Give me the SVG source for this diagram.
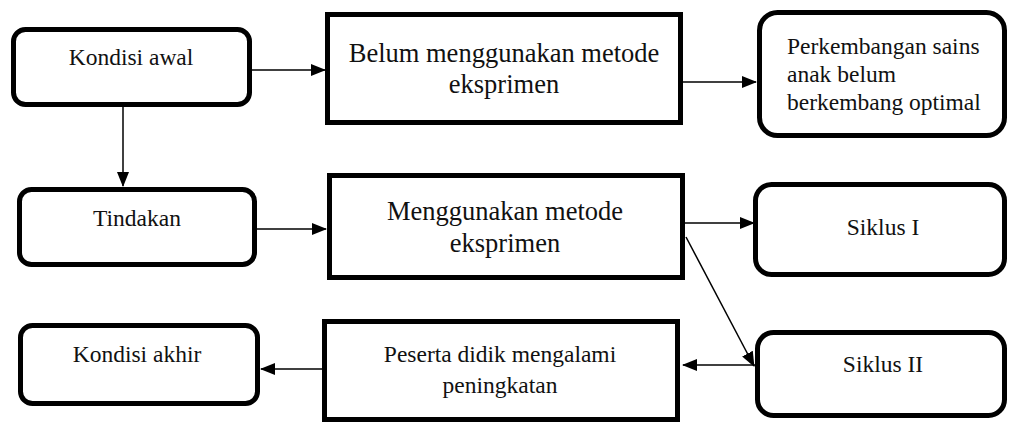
<svg xmlns="http://www.w3.org/2000/svg" width="1010" height="424" viewBox="0 0 1010 424">
  <style>
    .box { fill: #ffffff; stroke: #000000; stroke-width: 5; }
    .t { fill: #111111; font-size: 23.5px; }
    .big { font-size: 26.5px; }
    .c { text-anchor: middle; }
    .conn line { stroke: #000000; stroke-width: 1.5; marker-end: url(#arr); }
  </style>
  <defs>
    <marker id="arr" markerUnits="userSpaceOnUse" markerWidth="15" markerHeight="15" viewBox="0 0 15 15" refX="14" refY="7.5" orient="auto">
      <path d="M0,1.5 L15,7.5 L0,13.5 Z" fill="#000000"/>
    </marker>
  </defs>
  <rect width="1010" height="424" fill="#ffffff"/>

  <g id="connectors" class="conn">
    <line x1="252" y1="70" x2="325" y2="70"/>
    <line x1="683" y1="82" x2="756" y2="82"/>
    <line x1="123" y1="107" x2="123" y2="186"/>
    <line x1="257" y1="229" x2="326" y2="229"/>
    <line x1="680" y1="223" x2="754" y2="223"/>
    <line x1="686" y1="237" x2="754" y2="366"/>
    <line x1="762" y1="365" x2="683" y2="365"/>
    <line x1="322" y1="369" x2="261" y2="369"/>
  </g>

  <g font-family="'Liberation Serif', 'Times New Roman', Tinos, 'DejaVu Serif', serif">
  <g id="kondisi-awal">
    <rect class="box" x="13.5" y="29.5" width="236" height="75" rx="12"/>
    <text class="t c" x="131" y="65">Kondisi awal</text>
  </g>
  <g id="belum">
    <rect class="box" x="327.5" y="14.5" width="353" height="108"/>
    <text class="t big c" x="504" y="62">Belum menggunakan metode</text>
    <text class="t big c" x="504" y="93">eksprimen</text>
  </g>
  <g id="perkembangan">
    <rect class="box" x="759.5" y="12.5" width="245" height="123" rx="18"/>
    <text class="t" x="787" y="54">Perkembangan sains</text>
    <text class="t" x="787" y="82">anak belum</text>
    <text class="t" x="787" y="110">berkembang optimal</text>
  </g>
  <g id="tindakan">
    <rect class="box" x="19.5" y="189.5" width="235" height="75" rx="12"/>
    <text class="t c" x="137" y="226">Tindakan</text>
  </g>
  <g id="menggunakan">
    <rect class="box" x="329.5" y="175.5" width="353" height="102"/>
    <text class="t big c" x="505" y="220">Menggunakan metode</text>
    <text class="t big c" x="505" y="252">eksprimen</text>
  </g>
  <g id="siklus-1">
    <rect class="box" x="755.5" y="184.5" width="249" height="90" rx="16"/>
    <text class="t c" x="883" y="235">Siklus I</text>
  </g>
  <g id="siklus-2">
    <rect class="box" x="757.5" y="332.5" width="247" height="83" rx="16"/>
    <text class="t c" x="883" y="372">Siklus II</text>
  </g>
  <g id="peserta">
    <rect class="box" x="324.5" y="321.5" width="353" height="98"/>
    <text class="t c" x="500" y="362">Peserta didik mengalami</text>
    <text class="t c" x="500" y="393">peningkatan</text>
  </g>
  <g id="kondisi-akhir">
    <rect class="box" x="20.5" y="325.5" width="237" height="78" rx="12"/>
    <text class="t c" x="137" y="362">Kondisi akhir</text>
  </g>
  </g>
</svg>
